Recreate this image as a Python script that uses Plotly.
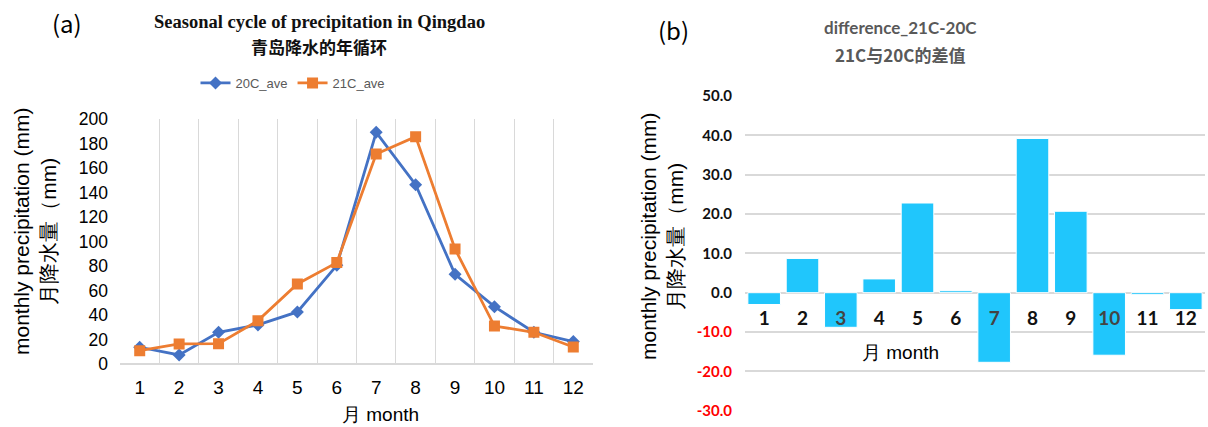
import plotly.graph_objects as go

months = list(range(1, 13))
month_labels = [str(m) for m in months]
p20 = [13.9, 7.6, 26.1, 32.1, 42.7, 80.7, 189.1, 146.4, 73.4, 47.0, 26.1, 18.5]
p21 = [11.1, 16.6, 16.8, 35.6, 65.5, 82.9, 171.4, 185.6, 94.0, 31.2, 26.1, 14.1]
diff = [-3.0, 8.7, -8.8, 3.5, 22.8, 0.5, -17.7, 39.2, 20.7, -15.9, -0.5, -4.3]
diff_ticks = [50, 40, 30, 20, 10, 0, -10, -20, -30]

SANS = "Liberation Sans, Arial, sans-serif"
CAL = "Lato, Liberation Sans, sans-serif"
CJK = "Noto Sans CJK SC, sans-serif"

fig = go.Figure()
fig.add_trace(go.Scatter(x=months, y=p20, name="20C_ave", mode="lines+markers",
                         line=dict(color="#4472C4", width=2.8),
                         marker=dict(symbol="diamond", size=10, color="#4472C4"),
                         xaxis="x", yaxis="y"))
fig.add_trace(go.Scatter(x=months, y=p21, name="21C_ave", mode="lines+markers",
                         line=dict(color="#ED7D31", width=2.8),
                         marker=dict(symbol="square", size=11, color="#ED7D31"),
                         xaxis="x", yaxis="y"))
fig.add_trace(go.Bar(x=months, y=diff, marker=dict(color="#20C6FC", line=dict(color="white", width=1)),
                     showlegend=False, xaxis="x2", yaxis="y2"))

yb0, yb1 = 1 - 410.7 / 427, 1 - 96 / 427
zero_pos = yb0 + (0 - (-30)) / 80 * (yb1 - yb0)

def lab_color(v):
    return "#444444" if diff[v - 1] < -6 else "#111111"

fig.update_layout(
    width=1208, height=427, margin=dict(l=0, r=0, t=0, b=0, pad=0, autoexpand=False),
    paper_bgcolor="white", plot_bgcolor="white",
    bargap=0.15,
    showlegend=True,
    legend=dict(orientation="h", x=293 / 1208, y=1 - 83 / 427, xanchor="center", yanchor="middle",
                font=dict(family=SANS, size=13, color="#595959"), itemwidth=30,
                tracegroupgap=0),
    xaxis=dict(domain=[120 / 1208, 593 / 1208], range=[0.5, 12.5], anchor="y", automargin=False,
               tickvals=months, ticktext=month_labels, showgrid=False, zeroline=False,
               tickfont=dict(family=SANS, size=19, color="#000000"), ticks="",
               ticklabelstandoff=10, showline=False,
               minor=dict(tick0=0.5, dtick=1, showgrid=True, gridcolor="#D9D9D9", gridwidth=1, ticks="")),
    yaxis=dict(domain=[1 - 364.3 / 427, 1 - 119 / 427], range=[0, 200], anchor="x", automargin=False,
               dtick=20, showgrid=False, zeroline=True, zerolinecolor="#D9D9D9", zerolinewidth=1.5,
               tickfont=dict(family=SANS, size=17.5, color="#000000"), ticks="", ticklabelstandoff=11),
    xaxis2=dict(domain=[745 / 1208, 1205 / 1208], range=[0.5, 12.5], anchor="free", position=zero_pos,
                automargin=False, tickvals=months,
                ticktext=[f'<span style="color:{lab_color(m)}">{m}</span>' for m in months],
                showgrid=False, zeroline=False, showline=False, ticks="",
                tickfont=dict(family=CAL, size=19, color="#111111", weight="bold"),
                ticklabelstandoff=12),
    yaxis2=dict(domain=[yb0, yb1], range=[-30, 50], anchor="x2", automargin=False,
                tickvals=diff_ticks,
                ticktext=[f'<span style="color:{"#FF0000" if v < 0 else "#111111"}">{v:.1f}</span>' for v in diff_ticks],
                showgrid=True, gridcolor="#D9D9D9", gridwidth=1.5, zeroline=False, ticks="",
                tickfont=dict(family=CAL, size=15, weight="bold"), ticklabelstandoff=12),
)

def A(text, x, y, size, family, color="#000000", angle=0):
    return dict(text=text, x=x / 1208, y=1 - y / 427, xref="paper", yref="paper",
                xanchor="center", yanchor="middle", showarrow=False, textangle=angle,
                font=dict(family=family, size=size, color=color))

ann = [
    A("(a)", 67, 23, 24, CJK),
    A("(b)", 673, 30, 24, CJK),
    A("<b>Seasonal cycle of precipitation in Qingdao</b>", 319, 22, 18.5,
      "Liberation Serif, Times New Roman, serif", "#111111"),
    A("<b>青岛降水的年循环</b>", 319, 46, 17, CJK, "#111111"),
    A("<b>difference_21C-20C</b>", 900, 28, 17, CAL, "#595959"),
    A("<b>21C与20C的差值</b>", 900, 54, 17, CJK, "#595959"),
    A("monthly precipitation (mm)<br>月降水量（mm)", 35, 232, 21, SANS, angle=-90),
    A("monthly precipitation (mm)<br>月降水量（mm)", 662, 237, 21, SANS, angle=-90),
    A("月 month", 380, 414, 19, SANS),
    A("月 month", 900, 352, 19, SANS),
]
fig.update_layout(annotations=ann)

fig.write_html("out.html", config={"displayModeBar": False},
               post_script="document.body.style.margin='0';document.body.style.overflow='hidden';")
